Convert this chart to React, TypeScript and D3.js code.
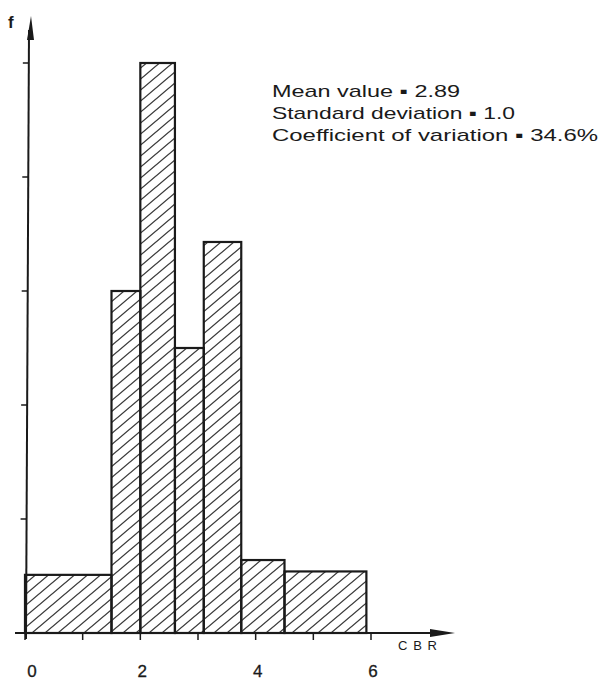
import React from "react";
import * as d3 from "d3";

// Histogram classes: [lower edge, upper edge] of CBR and frequency
const binLower = [0, 1.5, 2.0, 2.6, 3.1, 3.75, 4.5];
const binUpper = [1.5, 2.0, 2.6, 3.1, 3.75, 4.5, 5.92];
const frequency = [0.51, 3.0, 5.0, 2.5, 3.43, 0.64, 0.54];

const xTickValues = [0, 1, 2, 3, 4, 5, 6];
const xTickLabels = ["0", "2", "4", "6"];
const xLabelValues = [0, 2, 4, 6];
const yTickValues = [1, 2, 3, 4, 5];

const statsLines = [
  "Mean value \u25AA 2.89",
  "Standard deviation \u25AA 1.0",
  "Coefficient of variation \u25AA 34.6%",
];
const statsWidths = [188, 243, 326];

export default function App() {
  const W = 601;
  const H = 683;
  const x = d3.scaleLinear().domain([0, 6]).range([25, 371]);
  const y = d3.scaleLinear().domain([0, 5]).range([633, 63]);
  const font = "'Liberation Sans', Arial, Helvetica, sans-serif";
  const ink = "#1a1a1a";
  const axisX = x(0) + 1;
  const bins = binLower.map((lo, i) => ({ lo, hi: binUpper[i], f: frequency[i] }));

  return (
    <div style={{ position: "absolute", left: 0, top: 0, width: W, height: H, background: "#fff" }}>
      <svg width={W} height={H} viewBox={`0 0 ${W} ${H}`} style={{ display: "block" }}>
        <defs>
          <pattern id="hatch" patternUnits="userSpaceOnUse" width="13" height="11">
            <path d="M-1,11.85 L14,-0.85 M-14,11.85 L1,-0.85 M12,11.85 L27,-0.85" stroke="#3a3a3a" strokeWidth="1.3" fill="none" />
          </pattern>
        </defs>
        <rect x={0} y={0} width={W} height={H} fill="#fff" />

        {/* bars */}
        {bins.map((b, i) => (
          <rect
            key={i}
            x={x(b.lo)}
            y={y(b.f)}
            width={x(b.hi) - x(b.lo)}
            height={y(0) - y(b.f)}
            fill="url(#hatch)"
            stroke={ink}
            strokeWidth={2.2}
          />
        ))}

        {/* x axis */}
        <line x1={15} y1={y(0)} x2={440} y2={y(0)} stroke={ink} strokeWidth={2} />
        <path d={`M455,${y(0)} L430,${y(0) - 4} L430,${y(0) + 4} Z`} fill={ink} />
        {xTickValues.map((v) => (
          <line key={v} x1={x(v)} y1={y(0)} x2={x(v)} y2={y(0) + 7} stroke={ink} strokeWidth={1.5} />
        ))}
        {xLabelValues.map((v, i) => (
          <text key={v} x={x(v) + (v === 0 ? 7 : 2)} y={677} textAnchor="middle" fontFamily={font} fontSize={17} fill={ink} stroke={ink} strokeWidth={0.3}>
            {xTickLabels[i]}
          </text>
        ))}
        <text x={398} y={650} fontFamily={font} fontSize={13} fill={ink} textLength={39} lengthAdjust="spacing">
          CBR
        </text>

        {/* y axis */}
        <line x1={axisX} y1={y(0) + 6} x2={axisX + 3} y2={30} stroke={ink} strokeWidth={2} />
        <path d={`M${axisX + 5},16 L${axisX + 1},40 L${axisX + 8},40 Z`} fill={ink} />
        {yTickValues.map((v) => {
          const t = (y(0) - y(v)) / (y(0) - 30);
          const ax = axisX + 3 * t;
          return <line key={v} x1={ax - 6} y1={y(v)} x2={ax} y2={y(v)} stroke={ink} strokeWidth={1.5} />;
        })}
        <text x={8} y={28} fontFamily={font} fontSize={17} fontWeight="bold" fill={ink}>
          f
        </text>

        {/* statistics */}
        {statsLines.map((s, i) => (
          <text
            key={i}
            x={272}
            y={97 + i * 22}
            fontFamily={font}
            fontSize={17}
            fill={ink}
            textLength={statsWidths[i]}
            lengthAdjust="spacingAndGlyphs"
          >
            {s}
          </text>
        ))}
      </svg>
    </div>
  );
}
